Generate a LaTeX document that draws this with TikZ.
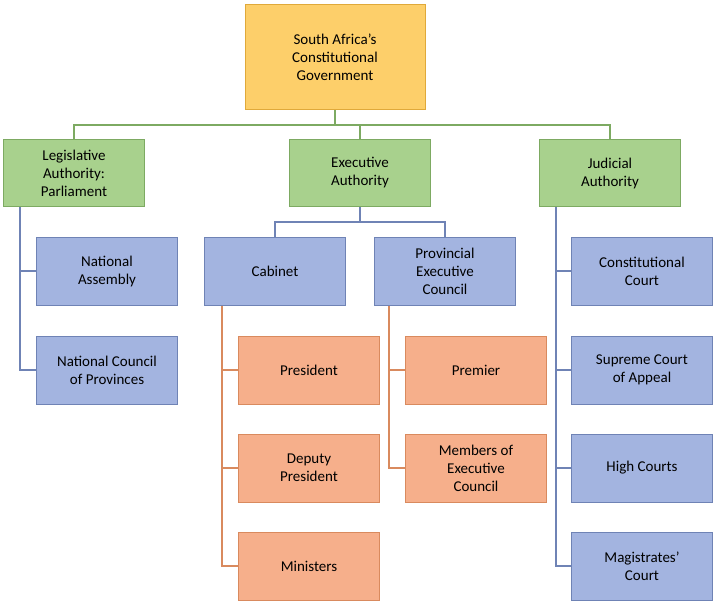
\documentclass[tikz,border=0pt]{standalone}
\usepackage{fontspec}
\setmainfont{Carlito}
\definecolor{topfill}{HTML}{FDCF6A}
\definecolor{topdraw}{HTML}{E0A93A}
\definecolor{grnfill}{HTML}{A8D18D}
\definecolor{grndraw}{HTML}{7DAA62}
\definecolor{blufill}{HTML}{A3B4E0}
\definecolor{bludraw}{HTML}{6F83B5}
\definecolor{orgfill}{HTML}{F6AF8B}
\definecolor{orgdraw}{HTML}{D98A5E}
\begin{document}
\begin{tikzpicture}[x=1pt,y=-1pt]
  \tikzstyle{every node}=[font=\fontsize{15}{18}\selectfont, align=center]
  \tikzstyle{box}=[draw, line width=1pt, minimum width=141pt, minimum height=68pt, inner sep=2pt]
  \tikzstyle{top}=[box, fill=topfill, draw=topdraw, minimum width=180pt, minimum height=105pt]
  \tikzstyle{grn}=[box, fill=grnfill, draw=grndraw, minimum height=67pt]
  \tikzstyle{blu}=[box, fill=blufill, draw=bludraw]
  \tikzstyle{org}=[box, fill=orgfill, draw=orgdraw]
  \tikzstyle{gline}=[draw=grndraw, line width=1.2pt]
  \tikzstyle{bline}=[draw=bludraw, line width=1.2pt]
  \tikzstyle{oline}=[draw=orgdraw, line width=1.2pt]
  \useasboundingbox (0,0) rectangle (720,606);
  % top level
  \node[top] (sa) at (335,57) {South Africa's\\Constitutional\\Government};
  % branches
  \node[grn] (leg) at (74,173) {Legislative\\Authority:\\Parliament};
  \node[grn] (exe) at (360,173) {Executive\\Authority};
  \node[grn] (jud) at (610,173) {Judicial\\Authority};
  % legislative
  \node[blu] (na) at (107,271) {National\\Assembly};
  \node[blu] (ncp) at (107,370) {National Council\\of Provinces};
  % executive
  \node[blu] (cab) at (275,271) {Cabinet};
  \node[blu] (pec) at (445,271) {Provincial\\Executive\\Council};
  \node[org] (pres) at (309,370) {President};
  \node[org] (dep) at (309,468) {Deputy\\President};
  \node[org] (min) at (309,566) {Ministers};
  \node[org] (prem) at (476,370) {Premier};
  \node[org] (mec) at (476,468) {Members of\\Executive\\Council};
  % judicial
  \node[blu] (cc) at (642,271) {Constitutional\\Court};
  \node[blu] (sca) at (642,370) {Supreme Court\\of Appeal};
  \node[blu] (hc) at (642,468) {High Courts};
  \node[blu] (mc) at (642,566) {Magistrates'\\Court};
  % connectors
  \coordinate (t1) at (335,125);
  \draw[gline] (sa.south) -- (t1);
  \draw[gline] (leg.north) |- (t1) -| (jud.north);
  \draw[gline] (t1) -| (exe.north);
  \coordinate (e1) at (360,222);
  \draw[bline] (exe.south) -- (e1);
  \draw[bline] (cab.north) |- (e1) -| (pec.north);
  \draw[bline] ([xshift=-54pt]leg.south) |- (na.west);
  \draw[bline] ([xshift=-54pt]leg.south) |- (ncp.west);
  \draw[bline] ([xshift=-54pt]jud.south) |- (cc.west);
  \draw[bline] ([xshift=-54pt]jud.south) |- (sca.west);
  \draw[bline] ([xshift=-54pt]jud.south) |- (hc.west);
  \draw[bline] ([xshift=-54pt]jud.south) |- (mc.west);
  \draw[oline] ([xshift=-53pt]cab.south) |- (pres.west);
  \draw[oline] ([xshift=-53pt]cab.south) |- (dep.west);
  \draw[oline] ([xshift=-53pt]cab.south) |- (min.west);
  \draw[oline] ([xshift=-56pt]pec.south) |- (prem.west);
  \draw[oline] ([xshift=-56pt]pec.south) |- (mec.west);
\end{tikzpicture}
\end{document}
